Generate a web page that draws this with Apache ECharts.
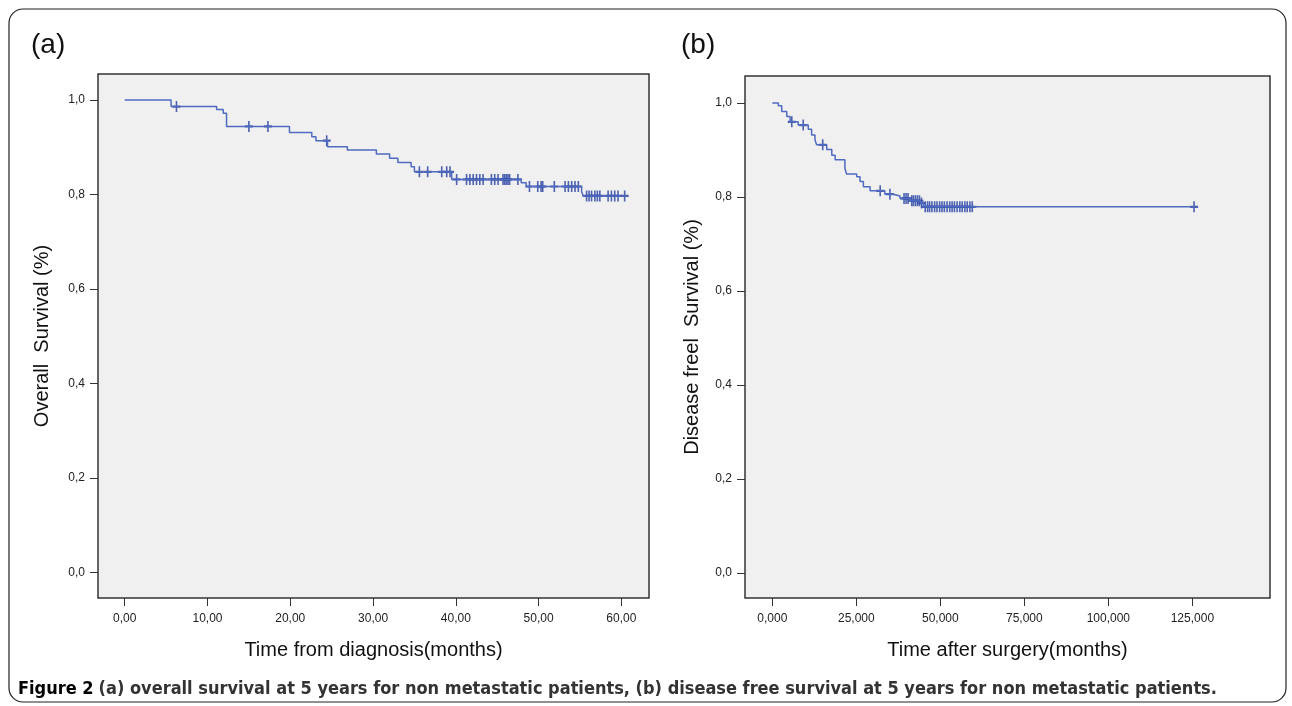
<!DOCTYPE html>
<html>
<head>
<meta charset="utf-8">
<script src="https://cdn.jsdelivr.net/npm/echarts@6/dist/echarts.min.js"></script>
<style>
    html, body { margin: 0; padding: 0; background: #fff; }
    #chart { width: 1292px; height: 706px; }
</style>
</head>
<body>
<div id="chart"></div>
<script>
    // (a) overall survival - step points (months, survival)
    var osTime = [0, 5.6, 11.1, 11.9, 12.3, 19.9, 22.6, 23.1, 24.5, 26.9, 30.4, 32.0, 33.0, 34.6, 35.0, 39.5, 47.9, 48.5, 55.2, 55.4, 60.4];
    var osSurv = [1.0, 0.986, 0.980, 0.972, 0.944, 0.931, 0.922, 0.914, 0.901, 0.894, 0.886, 0.877, 0.868, 0.859, 0.848, 0.832, 0.825, 0.817, 0.806, 0.797, 0.797];
    // censored patients (months)
    var osCensor = [6.25, 15.0, 17.3, 24.4, 35.6, 36.6, 38.3, 38.9, 39.3, 40.1, 41.3, 41.7, 42.1, 42.5, 42.9, 43.3,
        44.3, 44.7, 45.1, 45.7, 45.9, 46.1, 46.3, 46.5, 47.5, 48.9, 49.9, 50.3, 50.5, 51.9, 53.2, 53.6, 54.0, 54.4, 54.8,
        55.8, 56.1, 56.4, 56.8, 57.1, 57.4, 58.4, 58.8, 59.2, 59.6, 60.4];

    // (b) disease free survival
    var dfsTime = [0, 1.8, 2.8, 4.3, 5.3, 7.7, 10.7, 11.7, 12.7, 13.2, 16.2, 17.7, 18.7, 21.6, 22.1, 25.1, 26.1, 27.1, 29.1, 33.5, 36.0, 38.0, 41.0, 44.0, 45.0, 125.5];
    var dfsSurv = [1.0, 0.994, 0.982, 0.971, 0.960, 0.953, 0.944, 0.932, 0.921, 0.911, 0.901, 0.889, 0.879, 0.861, 0.849, 0.843, 0.833, 0.822, 0.813, 0.806, 0.802, 0.797, 0.792, 0.787, 0.779, 0.779];
    var dfsCensor = [5.8, 9.2, 15.0, 32.1, 35.0, 39.2, 39.8, 40.4, 41.5, 42.0, 42.6, 43.2, 43.8, 44.4, 45.5, 46.2, 46.8,
        47.5, 48.3, 49.0, 49.8, 50.5, 51.2, 52.0, 52.8, 53.5, 54.2, 55.0, 55.8, 56.5, 57.3, 58.0, 58.8, 59.5, 125.5];

    var survTicks = [0, 0.2, 0.4, 0.6, 0.8, 1.0];
    var osXTicks = [0, 10, 20, 30, 40, 50, 60];
    var dfsXTicks = [0, 25, 50, 75, 100, 125];

    var lineColor = '#4f6ac1';
    var markColor = '#3a52aa';
    var axisColor = '#333';
    var plus = 'path://M4,0H6V4H10V6H6V10H4V6H0V4H4Z';

    function pairs(t, s) {
        var out = [];
        for (var i = 0; i < t.length; i++) out.push([t[i], s[i]]);
        return out;
    }
    function survAt(t, s, x) {
        var v = s[0];
        for (var i = 0; i < t.length; i++) { if (t[i] <= x) v = s[i]; }
        return v;
    }
    function censorPts(c, t, s) {
        return c.map(function (x) { return [x, survAt(t, s, x)]; });
    }

    var myChart = echarts.init(document.getElementById('chart'));

    function xAxisOf(idx, min, max, ticks, digits, name) {
        return {
            gridIndex: idx, type: 'value', min: min, max: max,
            name: name, nameLocation: 'middle', nameGap: 42,
            nameTextStyle: { fontFamily: 'Liberation Sans', fontSize: 20, color: '#111' },
            axisLine: { show: false, onZero: false },
            axisTick: { show: true, length: 8, lineStyle: { color: axisColor, width: 1 }, customValues: ticks },
            axisLabel: {
                customValues: ticks, margin: 15, fontFamily: 'Liberation Sans', fontSize: 12, color: '#222',
                formatter: function (v) { return v.toFixed(digits).replace('.', ','); }
            },
            splitLine: { show: false }
        };
    }
    function yAxisOf(idx, min, max, name, gap) {
        return {
            gridIndex: idx, type: 'value', min: min, max: max,
            name: name, nameLocation: 'middle', nameGap: gap,
            nameTextStyle: { fontFamily: 'Liberation Sans', fontSize: 20, color: '#111' },
            axisLine: { show: false, onZero: false },
            axisTick: { show: true, length: 8, lineStyle: { color: axisColor, width: 1 }, customValues: survTicks },
            axisLabel: {
                customValues: survTicks, margin: 13, fontFamily: 'Liberation Sans', fontSize: 12, color: '#222',
                formatter: function (v) { return v.toFixed(1).replace('.', ','); }
            },
            splitLine: { show: false }
        };
    }

    var option = {
        animation: false,
        title: [
            { text: '(a)', left: 26, top: 26, textStyle: { fontFamily: 'Liberation Sans', fontSize: 28, fontWeight: 'normal', color: '#111' } },
            { text: '(b)', left: 676, top: 26, textStyle: { fontFamily: 'Liberation Sans', fontSize: 28, fontWeight: 'normal', color: '#111' } },
            {
                text: '{b|Figure 2} {n|(a) overall survival at 5 years for non metastatic patients, (b) disease free survival at 5 years for non metastatic patients.}',
                left: 13, top: 675,
                textStyle: {
                    rich: {
                        b: { fontFamily: 'Liberation Sans Narrow, DejaVu Sans Condensed', fontSize: 18, fontWeight: 'bold', color: '#000' },
                        n: { fontFamily: 'Liberation Sans Narrow, DejaVu Sans Condensed', fontSize: 18, fontWeight: 'bold', color: '#333' }
                    }
                }
            }
        ],
        graphic: [
            { type: 'rect', shape: { x: 9, y: 9, width: 1277, height: 693, r: 14 }, style: { fill: 'none', stroke: '#222', lineWidth: 1.2 }, silent: true, z: -1 }
        ],
        grid: [
            { left: 98, top: 74, width: 551, height: 524, show: true, backgroundColor: '#f0f0f0', borderColor: axisColor, borderWidth: 1.5 },
            { left: 745, top: 76, width: 525, height: 522, show: true, backgroundColor: '#f0f0f0', borderColor: axisColor, borderWidth: 1.5 }
        ],
        xAxis: [
            xAxisOf(0, -3.23, 63.34, osXTicks, 2, 'Time from diagnosis(months)'),
            xAxisOf(1, -8.125, 148.1, dfsXTicks, 3, 'Time after surgery(months)')
        ],
        yAxis: [
            yAxisOf(0, -0.0535, 1.055, 'Overall  Survival (%)', 46),
            yAxisOf(1, -0.0532, 1.0574, 'Disease freel  Survival (%)', 43)
        ],
        series: [
            {
                name: 'OS', type: 'line', step: 'end', xAxisIndex: 0, yAxisIndex: 0,
                showSymbol: false, data: pairs(osTime, osSurv),
                lineStyle: { color: lineColor, width: 1.5 }
            },
            {
                name: 'OS censored', type: 'scatter', xAxisIndex: 0, yAxisIndex: 0,
                symbol: plus, symbolSize: [8, 11], symbolKeepAspect: false,
                itemStyle: { color: markColor, opacity: 0.9 },
                data: censorPts(osCensor, osTime, osSurv)
            },
            {
                name: 'DFS', type: 'line', step: 'end', xAxisIndex: 1, yAxisIndex: 1,
                showSymbol: false, data: pairs(dfsTime, dfsSurv),
                lineStyle: { color: lineColor, width: 1.5 }
            },
            {
                name: 'DFS censored', type: 'scatter', xAxisIndex: 1, yAxisIndex: 1,
                symbol: plus, symbolSize: [8, 11], symbolKeepAspect: false,
                itemStyle: { color: markColor, opacity: 0.9 },
                data: censorPts(dfsCensor, dfsTime, dfsSurv)
            }
        ]
    };

    myChart.setOption(option);
</script>
</body>
</html>
